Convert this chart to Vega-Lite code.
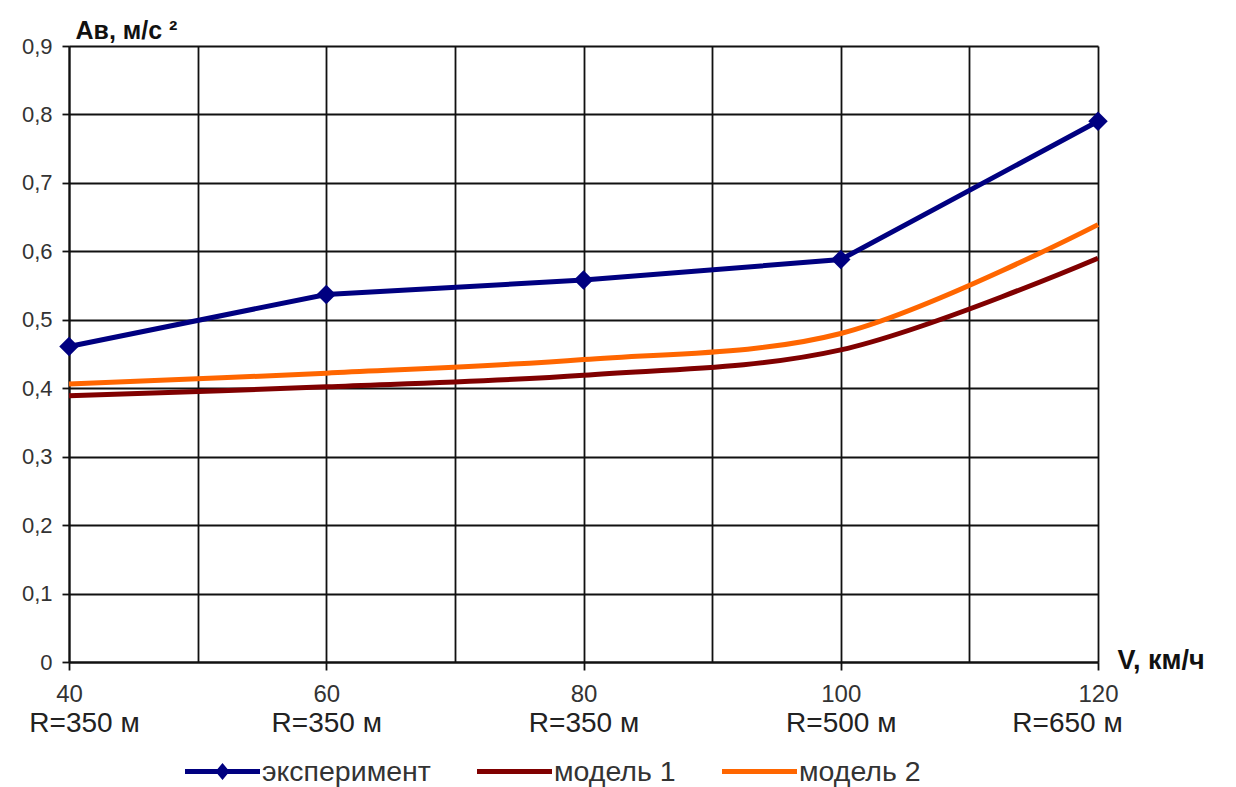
{
  "$schema": "https://vega.github.io/schema/vega-lite/v6.json",
  "width": 1029,
  "height": 616,
  "autosize": {"type": "none"},
  "padding": {"left": 69, "top": 46, "right": 138, "bottom": 125},
  "background": "white",
  "config": {
    "font": "Liberation Sans",
    "view": {"stroke": null},
    "axis": {
      "domainColor": "#111",
      "domainWidth": 2,
      "gridColor": "#111",
      "gridWidth": 1.8,
      "tickColor": "#111",
      "tickWidth": 1.8,
      "labelColor": "#333",
      "labelFont": "Liberation Sans",
      "titleFont": "Liberation Sans",
      "titleColor": "#111"
    }
  },
  "data": {
    "values": [
      {"V": 40, "a": 0.461, "series": "эксперимент"},
      {"V": 60, "a": 0.537, "series": "эксперимент"},
      {"V": 80, "a": 0.558, "series": "эксперимент"},
      {"V": 100, "a": 0.588, "series": "эксперимент"},
      {"V": 120, "a": 0.790, "series": "эксперимент"},
      {"V": 40, "a": 0.389, "series": "модель 1"},
      {"V": 60, "a": 0.402, "series": "модель 1"},
      {"V": 80, "a": 0.419, "series": "модель 1"},
      {"V": 100, "a": 0.456, "series": "модель 1"},
      {"V": 120, "a": 0.590, "series": "модель 1"},
      {"V": 40, "a": 0.406, "series": "модель 2"},
      {"V": 60, "a": 0.422, "series": "модель 2"},
      {"V": 80, "a": 0.442, "series": "модель 2"},
      {"V": 100, "a": 0.480, "series": "модель 2"},
      {"V": 120, "a": 0.639, "series": "модель 2"}
    ]
  },
  "encoding": {
    "y": {
      "field": "a",
      "type": "quantitative",
      "scale": {"domain": [0, 0.9], "nice": false, "zero": true},
      "axis": {
        "values": [0, 0.1, 0.2, 0.3, 0.4, 0.5, 0.6, 0.7, 0.8, 0.9],
        "labelExpr": "datum.value == 0 ? '0' : replace(format(datum.value, '.1f'), '.', ',')",
        "labelFontSize": 22,
        "labelPadding": 10,
        "tickSize": 7,
        "grid": true,
        "title": "Ав, м/с ²",
        "titleFontSize": 25,
        "titleFontWeight": "bold",
        "titleAngle": 0,
        "titleAlign": "left",
        "titleBaseline": "alphabetic",
        "titleX": 6,
        "titleY": -8
      }
    },
    "color": {
      "field": "series",
      "type": "nominal",
      "scale": {
        "domain": ["эксперимент", "модель 1", "модель 2"],
        "range": ["#000080", "#800000", "#FF6600"]
      },
      "legend": {
        "orient": "none",
        "legendX": 116,
        "legendY": 688,
        "direction": "horizontal",
        "title": null,
        "padding": 0,
        "symbolSize": 5625,
        "symbolStrokeWidth": 0,
        "labelFontSize": 28.5,
        "labelLimit": 400,
        "labelColor": "#333",
        "labelFont": "Liberation Sans",
        "labelOffset": 2,
        "columnPadding": 46,
        "encode": {
          "symbols": {
            "update": {
              "shape": {"signal": "datum.value == 'эксперимент' ? 'M-1,-0.067H-0.133L0,-0.227L0.133,-0.067H1V0.067H0.133L0,0.227L-0.133,0.067H-1Z' : 'M-1,-0.067H1V0.067H-1Z'"},
              "fill": {"scale": "color", "field": "value"},
              "fillOpacity": {"value": 1},
              "strokeWidth": {"value": 0}
            }
          }
        }
      }
    }
  },
  "layer": [
    {
      "transform": [{"filter": "datum.series != 'эксперимент'"}],
      "mark": {"type": "line", "interpolate": "catmull-rom", "strokeWidth": 5},
      "encoding": {
        "x": {
          "field": "V",
          "type": "quantitative",
          "scale": {"domain": [40, 120], "nice": false, "zero": false},
          "axis": {
            "values": [40, 50, 60, 70, 80, 90, 100, 110, 120],
            "labelExpr": "datum.value % 20 == 0 ? datum.label : ''",
            "labelFlush": false,
            "labelOverlap": false,
            "labelFontSize": 24,
            "labelPadding": 12,
            "tickSize": 8,
            "tickOpacity": {"condition": {"test": "datum.value % 20 == 0", "value": 1}, "value": 0},
            "grid": true,
            "title": "V, км/ч",
            "titleFontSize": 27,
            "titleFontWeight": "bold",
            "titleAlign": "left",
            "titleBaseline": "alphabetic",
            "titleX": 1048,
            "titleY": 6
          }
        }
      }
    },
    {
      "transform": [{"filter": "datum.series == 'эксперимент'"}],
      "mark": {"type": "line", "strokeWidth": 5},
      "encoding": {
        "x": {"field": "V", "type": "quantitative", "axis": null}
      }
    },
    {
      "transform": [{"filter": "datum.series == 'эксперимент'"}],
      "mark": {"type": "point", "shape": "diamond", "filled": true, "size": 380, "opacity": 1},
      "encoding": {
        "x": {
          "field": "V",
          "type": "quantitative",
          "axis": {
            "orient": "bottom",
            "values": [40, 60, 80, 100, 120],
            "labelExpr": "datum.value <= 80 ? 'R=350 м' : datum.value == 100 ? 'R=500 м' : 'R=650 м'",
            "labelFlush": false,
            "labelOverlap": false,
            "labelFontSize": 28,
            "labelColor": "#222",
            "labelPadding": 0,
            "labelOffset": {"condition": [{"test": "datum.value == 40", "value": 15}, {"test": "datum.value == 120", "value": -31}], "value": 0},
            "offset": 47,
            "domain": false,
            "ticks": false,
            "tickSize": 0,
            "grid": false,
            "title": null
          }
        }
      }
    }
  ],
  "resolve": {"axis": {"x": "independent"}}
}
